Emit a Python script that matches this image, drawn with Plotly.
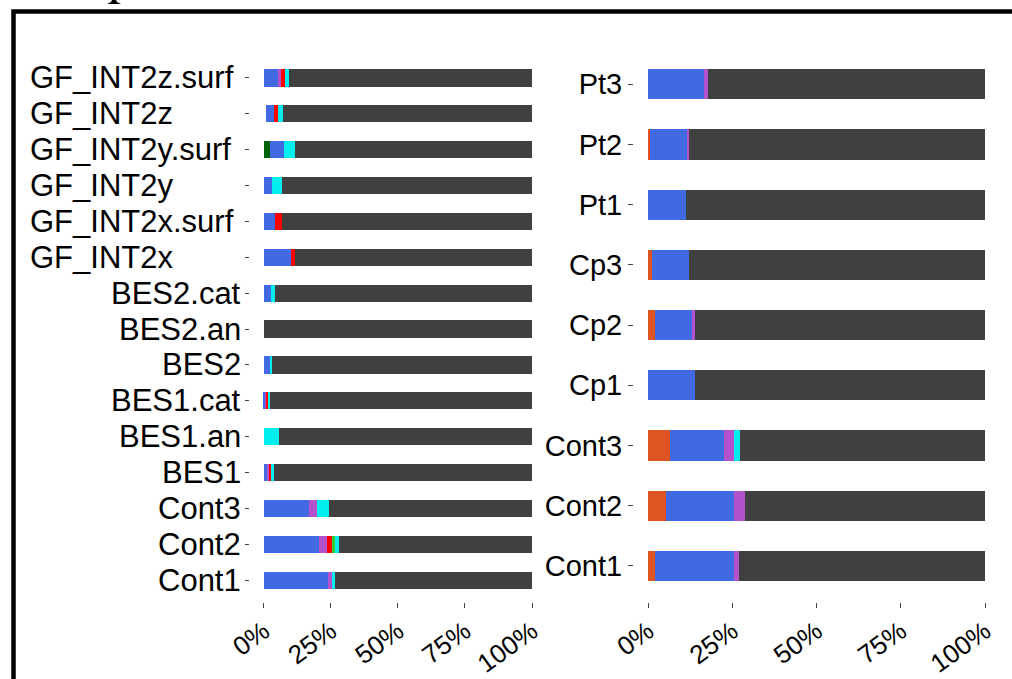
import plotly.graph_objects as go

# ---------------- data ----------------
left_samples = ["Cont1", "Cont2", "Cont3", "BES1", "BES1.an", "BES1.cat", "BES2", "BES2.an",
                "BES2.cat", "GF_INT2x", "GF_INT2x.surf", "GF_INT2y", "GF_INT2y.surf",
                "GF_INT2z", "GF_INT2z.surf"]
left_unassigned = [0, 0, 0, 0, 0, 0, 0, 0, 0, 0, 0, 0, 0, 0.6, 0]
left_darkgreen = [0, 0, 0, 0, 0, 0, 0, 0, 0, 0, 0, 0, 2.2, 0, 0]
left_blue = [23.8, 20.6, 16.7, 1.5, 0, 0.4, 2.1, 0, 2.6, 10.1, 4.2, 3.0, 5.2, 3.1, 5.6]
left_purple = [1.6, 3.1, 3.0, 0.6, 0, 0.4, 0, 0, 0, 0, 0, 0, 0, 0, 0.6]
left_red = [0, 1.7, 0, 0.4, 0, 0.6, 0, 0, 0, 1.6, 2.6, 0, 0, 1.5, 1.6]
left_green = [0, 1.2, 0, 0, 0, 0, 0, 0, 0, 0, 0, 0, 0, 0, 0]
left_cyan = [1.0, 1.5, 4.5, 1.2, 5.6, 0.8, 1.0, 0, 1.7, 0, 0, 3.6, 4.0, 1.9, 1.7]

right_samples = ["Cont1", "Cont2", "Cont3", "Cp1", "Cp2", "Cp3", "Pt1", "Pt2", "Pt3"]
right_orange = [2.0, 5.2, 6.6, 0, 2.0, 1.2, 0, 0.6, 0]
right_blue = [23.4, 20.4, 15.8, 13.9, 10.9, 10.9, 11.2, 10.9, 16.6]
right_purple = [1.7, 3.1, 3.0, 0, 1.0, 0, 0, 0.6, 1.3]
right_cyan = [0, 0, 2.0, 0, 0, 0, 0, 0, 0]

x_tickvals = [0, 25, 50, 75, 100]
x_ticktext = ["0%", "25%", "50%", "75%", "100%"]

# remainder (dominant dark-grey group)
left_series = [left_unassigned, left_darkgreen, left_blue, left_purple, left_red, left_green, left_cyan]
left_grey = [100 - sum(s[i] for s in left_series) for i in range(len(left_samples))]
right_series = [right_orange, right_blue, right_purple, right_cyan]
right_grey = [100 - sum(s[i] for s in right_series) for i in range(len(right_samples))]

COL = {
    "unassigned": "#FFFFFF", "darkgreen": "#006400", "blue": "#4169E1", "purple": "#B452CD",
    "red": "#FF0000", "green": "#32CD32", "cyan": "#00EEEE", "grey": "#404040", "orange": "#DD5522",
}

FONT = "Liberation Sans, Arial, sans-serif"
W, H = 1012, 679

fig = go.Figure()

left_traces = [("unassigned", left_unassigned), ("darkgreen", left_darkgreen), ("blue", left_blue),
               ("purple", left_purple), ("red", left_red), ("green", left_green),
               ("cyan", left_cyan), ("grey", left_grey)]
for name, vals in left_traces:
    fig.add_trace(go.Bar(y=left_samples, x=vals, orientation="h", name=name,
                         marker=dict(color=COL[name], line=dict(width=0)),
                         width=0.48, xaxis="x", yaxis="y", showlegend=False))

right_traces = [("orange", right_orange), ("blue", right_blue), ("purple", right_purple),
                ("cyan", right_cyan), ("grey", right_grey)]
for name, vals in right_traces:
    fig.add_trace(go.Bar(y=right_samples, x=vals, orientation="h", name=name,
                         marker=dict(color=COL[name], line=dict(width=0)),
                         width=0.5, xaxis="x2", yaxis="y2", showlegend=False))

ydom = [1 - 602 / H, 1 - 50 / H]

xaxis_common = dict(tickvals=x_tickvals, ticktext=x_ticktext, tickangle=-36, ticks="outside",
                    ticklen=5, tickcolor="#444", ticklabelstandoff=-2,
                    tickfont=dict(size=26, family=FONT, color="black"),
                    showgrid=False, zeroline=False, showline=False, automargin=False)

fig.update_layout(
    width=W, height=H, barmode="stack", showlegend=False,
    margin=dict(l=0, r=0, t=0, b=0, pad=0, autoexpand=False),
    paper_bgcolor="white", plot_bgcolor="white",
    font=dict(family=FONT, color="black"),
    xaxis=dict(domain=[250 / W, 532 / W], range=[-5.2, 100], anchor="y", **xaxis_common),
    yaxis=dict(domain=ydom, range=[-0.61, 14.78], type="category",
               categoryorder="array", categoryarray=left_samples,
               ticks="outside", ticklen=4, tickcolor="#444", showticklabels=False,
               showgrid=False, zeroline=False, showline=False, anchor="x", automargin=False),
    xaxis2=dict(domain=[634 / W, 985 / W], range=[-4.2, 100], anchor="y2", **xaxis_common),
    yaxis2=dict(domain=ydom, range=[-0.6, 8.57], type="category",
                categoryorder="array", categoryarray=right_samples,
                ticks="outside", ticklen=5, tickcolor="#444",
                tickfont=dict(size=29, family=FONT, color="black"),
                showgrid=False, zeroline=False, showline=False, anchor="x2", automargin=False),
)

# left-panel sample labels
for s in left_samples:
    if s.startswith("GF"):
        fig.add_annotation(x=28 / W, xref="paper", y=s, yref="y", text=s, showarrow=False,
                           xanchor="left", yanchor="middle",
                           font=dict(size=31, family=FONT, color="black"))
    else:
        fig.add_annotation(x=243 / W, xref="paper", y=s, yref="y", text=s, showarrow=False,
                           xanchor="right", yanchor="middle",
                           font=dict(size=31, family=FONT, color="black"))

# outer frame (left and top edges visible)
fig.add_shape(type="rect", xref="paper", yref="paper",
              x0=13.5 / W, x1=1040 / W, y0=-0.1, y1=1 - 11.5 / H,
              line=dict(color="black", width=4.5), fillcolor="rgba(0,0,0,0)", layer="above")


def px(x, y):
    return f"{x / W} {1 - y / H}"


# remnant of clipped heading glyph (serif foot)
fig.add_shape(type="path", xref="paper", yref="paper",
              path=f"M {px(112, 0)} L {px(116, 0)} L {px(117, 2)} L {px(121, 4)} "
                   f"L {px(107, 4)} L {px(111, 2)} Z",
              fillcolor="black", line=dict(width=0))

fig.write_html("out.html", config={"displayModeBar": False},
               post_script="document.body.style.margin='0';document.body.style.overflow='hidden';")
